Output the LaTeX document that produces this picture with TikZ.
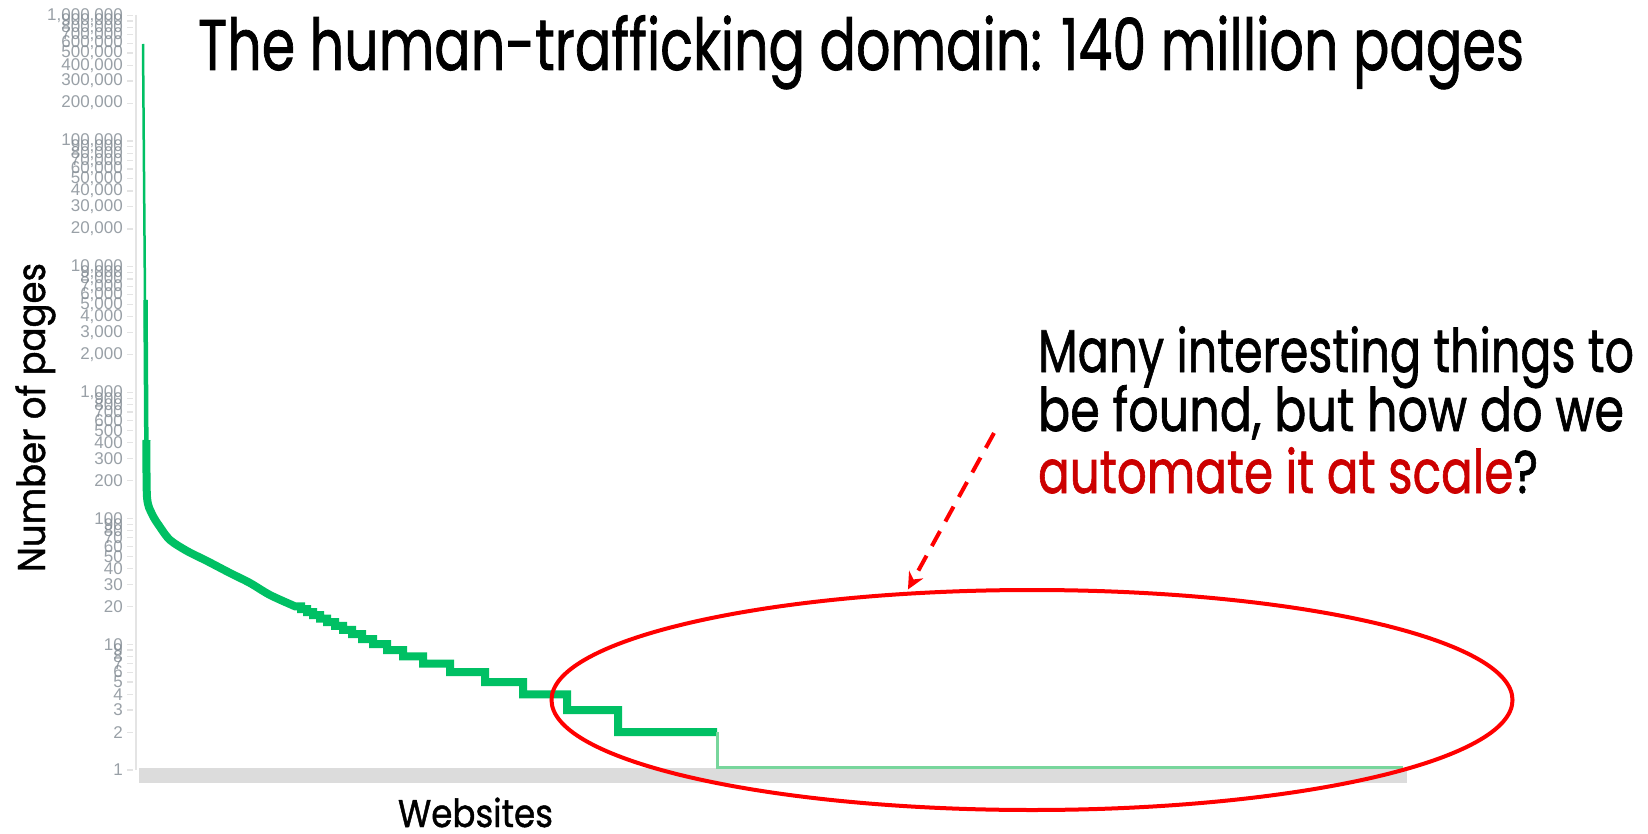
\documentclass[tikz,border=0pt]{standalone}
\usepackage{fontspec}
\usepackage{graphicx}
\setmainfont{Poppins}[FakeBold=1.2]
\newfontfamily\labelfont{Liberation Sans}
\usetikzlibrary{arrows.meta,shapes.geometric}

\definecolor{chartgreen}{RGB}{0,192,100}
\definecolor{palegreen}{RGB}{120,214,156}
\definecolor{bargray}{RGB}{220,220,220}
\definecolor{axisgray}{RGB}{228,228,228}
\definecolor{tickgray}{RGB}{128,137,145}
\definecolor{hired}{RGB}{255,0,0}
\definecolor{textred}{RGB}{204,0,0}

% stretch a line of text horizontally to a given width, at a given font size
\newcommand{\fitline}[3]{\resizebox{#1}{\height}{\fontsize{#2}{#2}\selectfont #3}}

\tikzset{
  txt/.style={inner sep=0pt, outer sep=0pt, text=black},
  ticklabel/.style={inner sep=0pt, anchor=east, text=tickgray, text opacity=0.8,
                    font=\labelfont\fontsize{17}{17}\selectfont},
  tickline/.style={draw=axisgray, line width=1.2},
  curvethick/.style={draw=chartgreen, line width=8, line join=miter},
  curvethin/.style={draw=chartgreen, line width=2.5},
  tailline/.style={draw=palegreen, line width=3},
  ring/.style={draw=hired, line width=4, ellipse, inner sep=0pt, outer sep=0pt,
               minimum width=961, minimum height=220},
  pointer/.style={draw=hired, line width=4, dash pattern=on 17pt off 11pt,
                  -{Stealth[length=17pt, width=16pt]}},
}

\begin{document}
\begin{tikzpicture}[x=1pt, y=-1pt]
  \fill[white] (0,0) rectangle (1648,834);
  \useasboundingbox (0,0) rectangle (1648,834);

  % log-scale value axis: y = 770 - 125.8 log10(v)
  \draw[axisgray, line width=2] (136,15) -- (136,770);
  \foreach \k/\suf in {0/{}, 1/0, 2/00, 3/{,000}, 4/{0,000}, 5/{00,000}} {
    \foreach \m in {1,...,9} {
      \pgfmathsetmacro\yy{770-125.8*(\k+log10(\m))}
      \draw[tickline] (127,\yy) -- (133,\yy);
      \node[ticklabel] (lab-\k-\m) at (123,\yy) {\m\suf};
    }
  }
  \draw[tickline] (127,15.2) -- (133,15.2);
  \node[ticklabel] (lab-6-1) at (123,15.2) {1,000,000};

  % website axis band
  \fill[bargray] (139,768) rectangle (1407,783);

  % pages per website, sorted
  \draw[curvethin] (143,44) -- (145,300) -- (146.5,470);
  \draw[chartgreen, line width=4.5] (145.5,300) -- (146.5,470);
  \draw[curvethick] plot[smooth] coordinates {
      (146.5,440) (147,497) (152,514) (160,527) (170,540) (187,551)
      (207,561) (230,573) (250,583) (270,595) (295,606.3)}
    -- (301,606.3) -- (301,609.1) -- (307,609.1) -- (307,612.1)
    -- (313,612.1) -- (313,615.2) -- (320,615.2) -- (320,618.5)
    -- (327,618.5) -- (327,622.0) -- (335,622.0) -- (335,625.8)
    -- (343,625.8) -- (343,629.9) -- (352,629.9) -- (352,634.2)
    -- (362,634.2) -- (362,639.0) -- (373,639.0) -- (373,644.2)
    -- (387,644.2) -- (387,650.0) -- (403,650.0) -- (403,656.4)
    -- (423,656.4) -- (423,663.7) -- (450,663.7) -- (450,672.1)
    -- (485,672.1) -- (485,682.1) -- (523,682.1) -- (523,694.3)
    -- (567,694.3) -- (567,710.0) -- (618,710.0) -- (618,732.1)
    -- (717,732.1);
  \draw[tailline] (717,732.1) -- (717,767) -- (1403,767);

  % long tail highlight
  \node[ring] (tail) at (1032,700) {};
  \coordinate (cue) at (994,433);
  \draw[pointer, shorten >=5pt] (cue) -- (tail.140);

  % texts
  \node[txt, anchor=base west] (title) at (198,70)
    {\fitline{1326pt}{71.6pt}{The human-trafficking domain: 140 million pages}};
  \node[txt, anchor=base, rotate=90] (ylab) at (45,417.5)
    {\fitline{309pt}{38.7pt}{Number of pages}};
  \node[txt, anchor=base] (xlab) at (475.5,827)
    {\fitline{155pt}{38.7pt}{Websites}};
  \node[txt, anchor=base west] (line1) at (1038,372)
    {\fitline{596pt}{60.2pt}{Many interesting things to}};
  \node[txt, anchor=base west] (line2) at (1038,431)
    {\fitline{586pt}{60.2pt}{be found, but how do we}};
  \node[txt, anchor=base west] (line3) at (1038,493)
    {\fitline{500pt}{60.2pt}{\textcolor{textred}{automate it at scale}?}};
\end{tikzpicture}
\end{document}
